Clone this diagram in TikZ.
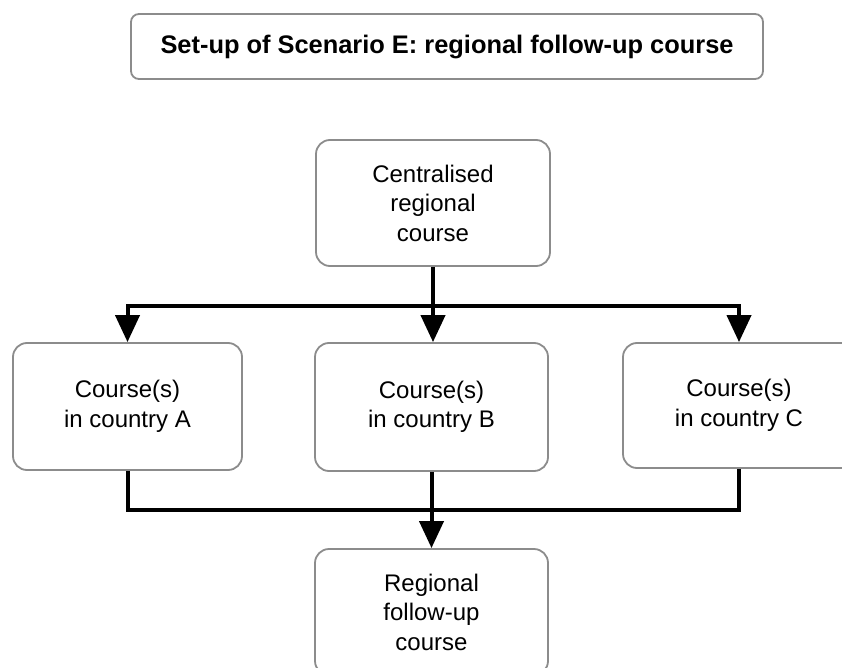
\documentclass[tikz,border=0pt]{standalone}
\usepackage{fontspec}
\setmainfont{Liberation Sans}
\usetikzlibrary{arrows.meta}
\begin{document}
\begin{tikzpicture}[x=1pt,y=-1pt,
  box/.style={draw=black!45, line width=1.8pt, rounded corners=14pt,
    minimum width=233pt, minimum height=126pt, align=center, inner sep=0pt,
    font=\fontsize{24}{29.5}\selectfont},
  titlebox/.style={draw=black!45, line width=1.8pt, rounded corners=8pt,
    minimum width=632pt, minimum height=65pt, inner sep=0pt,
    font=\fontsize{25.4}{30}\selectfont\bfseries},
  conn/.style={line width=4pt, black},
  arr/.style={conn, -{Triangle[width=24pt,length=27pt]}}]
\useasboundingbox (0,0) rectangle (842,668);
\clip (0,0) rectangle (842,668);
\node[titlebox] (t) at (447,46.5) {Set-up of Scenario E: regional follow-up course};
\node[box, minimum width=234pt] (c) at (433,203) {Centralised\\regional\\course};
\node[box, minimum width=229pt, minimum height=127pt] (a) at (127.5,406.5) {Course(s)\\in country A};
\node[box, minimum height=128pt] (b) at (431.5,407) {Course(s)\\in country B};
\node[box, minimum width=232pt, minimum height=125pt] (cc) at (739,405.5) {Course(s)\\in country C};
\node[box] (r) at (431.5,612) {Regional\\follow-up\\course};
\coordinate (j1) at (433,306);
\coordinate (j2) at (431.5,510);
\draw[conn] (c.south) -- (j1);
\draw[arr] (j1) -- (j1 |- b.north);
\draw[arr] (j1) -| (a.north);
\draw[arr] (j1) -| (cc.north);
\draw[conn] (a.south) |- (j2);
\draw[conn] (cc.south) |- (j2);
\draw[arr] (b.south) -- (r.north);
\end{tikzpicture}
\end{document}
